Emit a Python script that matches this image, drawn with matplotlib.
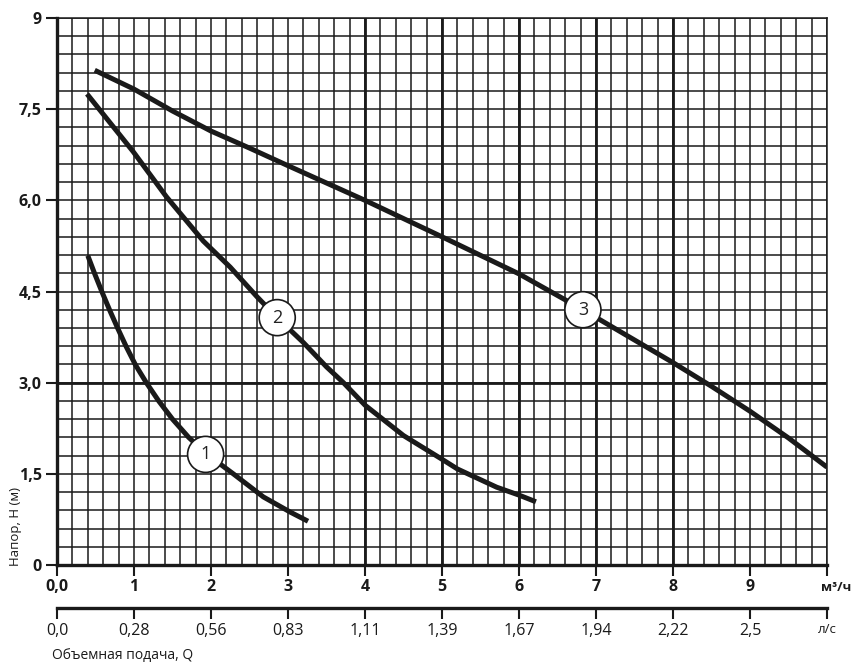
import numpy as np
import matplotlib
matplotlib.use("Agg")
import matplotlib.pyplot as plt

plt.rcParams['font.family'] = ['Open Sans', 'DejaVu Sans']

# ---- data ----
curve1_x = [0.40, 0.49, 0.585, 0.685, 0.79, 0.90, 1.02, 1.16, 1.32, 1.50, 1.71, 1.95, 2.30, 2.68, 3.03, 3.26]
curve1_y = [5.09, 4.79, 4.49, 4.19, 3.89, 3.59, 3.29, 3.00, 2.70, 2.40, 2.10, 1.82, 1.49, 1.12, 0.87, 0.72]

curve2_x = [0.39, 0.99, 1.42, 1.90, 2.25, 2.60, 2.86, 3.20, 3.50, 3.72, 4.00, 4.50, 5.00, 5.20, 5.71, 6.00, 6.22]
curve2_y = [7.75, 6.80, 6.06, 5.33, 4.90, 4.41, 4.07, 3.66, 3.26, 3.00, 2.63, 2.13, 1.74, 1.58, 1.28, 1.15, 1.04]

curve3_x = [0.49, 1.0, 1.5, 2.0, 2.5, 3.0, 4.0, 5.0, 6.0, 6.83, 7.57, 8.0, 8.5, 9.0, 9.5, 10.0]
curve3_y = [8.14, 7.83, 7.47, 7.14, 6.86, 6.57, 6.00, 5.40, 4.79, 4.20, 3.65, 3.33, 2.94, 2.53, 2.09, 1.61]

curve_labels = ['1', '2', '3']
label_x = [1.93, 2.86, 6.83]
label_y = [1.82, 4.07, 4.20]

x_ticks = [0, 1, 2, 3, 4, 5, 6, 7, 8, 9, 10]
x_tick_labels = ['0,0', '1', '2', '3', '4', '5', '6', '7', '8', '9', '']
ls_tick_labels = ['0,0', '0,28', '0,56', '0,83', '1,11', '1,39', '1,67', '1,94', '2,22', '2,5', 'л/с']
y_ticks = [0, 1.5, 3.0, 4.5, 6.0, 7.5, 9.0]
y_tick_labels = ['0', '1,5', '3,0', '4,5', '6,0', '7,5', '9']
thick_x = [4, 5, 6, 7, 8]
thick_y = [3]

# ---- figure ----
fig = plt.figure(figsize=(8.67, 6.70), dpi=100)
ax = fig.add_axes([57/867, 1 - 565/670, 770/867, 547/670])
ax.set_xlim(0, 10)
ax.set_ylim(0, 9)

# grid
ax.set_xticks(np.arange(0, 10.001, 0.2), minor=True)
ax.set_yticks(np.arange(0, 9.001, 0.3), minor=True)
ax.grid(which='minor', color='#1a1a1a', linewidth=1.1)
ax.grid(which='major', color='#1a1a1a', linewidth=1.1)
for xv in thick_x:
    ax.axvline(xv, color='#1a1a1a', linewidth=2.0, zorder=1)
for yv in thick_y:
    ax.axhline(yv, color='#1a1a1a', linewidth=2.0, zorder=1)
ax.set_axisbelow(True)

ax.tick_params(which='minor', length=0)
ax.set_xticks(x_ticks)
ax.set_xticklabels(x_tick_labels, fontweight='bold', fontsize=11.5)
ax.set_yticks(y_ticks)
ax.set_yticklabels(y_tick_labels, fontweight='bold', fontsize=11.5)
ax.tick_params(which='major', length=8, width=1.5, color='#1a1a1a', labelcolor='#1a1a1a')
ax.tick_params(axis='x', pad=2)
ax.tick_params(axis='y', pad=3)

for s in ['left', 'bottom']:
    ax.spines[s].set_linewidth(2.4)
    ax.spines[s].set_color('#1a1a1a')
for s in ['top', 'right']:
    ax.spines[s].set_linewidth(1.1)
    ax.spines[s].set_color('#1a1a1a')

# curves
for cx, cy in [(curve1_x, curve1_y), (curve2_x, curve2_y), (curve3_x, curve3_y)]:
    ax.plot(cx, cy, color='#1a1a1a', linewidth=3.6, solid_capstyle='butt',
            solid_joinstyle='round', zorder=3)

for t, lx, ly in zip(curve_labels, label_x, label_y):
    ax.text(lx, ly, t, ha='center', va='center', fontsize=13, color='#222222', zorder=5,
            bbox=dict(boxstyle='circle,pad=0.5', fc='white', ec='#1a1a1a', lw=1.2))

# units on m3/h axis
ax.text(10.12, -0.27, 'м³/ч', ha='center', va='top', fontsize=9.5, fontweight='bold',
        color='#1a1a1a', clip_on=False)

# secondary axis (l/s)
sec = ax.secondary_xaxis(-43/547)
sec.set_xticks(x_ticks)
sec.set_xticklabels(ls_tick_labels, fontsize=11.5)
sec.tick_params(length=8, width=1.5, color='#1a1a1a', labelcolor='#1a1a1a', pad=3)
sec.spines['bottom'].set_linewidth(2.4)
sec.spines['bottom'].set_color('#1a1a1a')
lbls = sec.get_xticklabels()
lbls[-1].set_fontsize(9.5)

# axis titles
fig.text(15/867, 1 - 527/670, 'Напор, Н (м)', rotation=90, ha='center', va='center',
         fontsize=9.5, color='#1a1a1a')
fig.text(52/867, 1 - 655/670, 'Объемная подача, Q', ha='left', va='center',
         fontsize=10, color='#1a1a1a')

fig.savefig('out.png', dpi=100)
